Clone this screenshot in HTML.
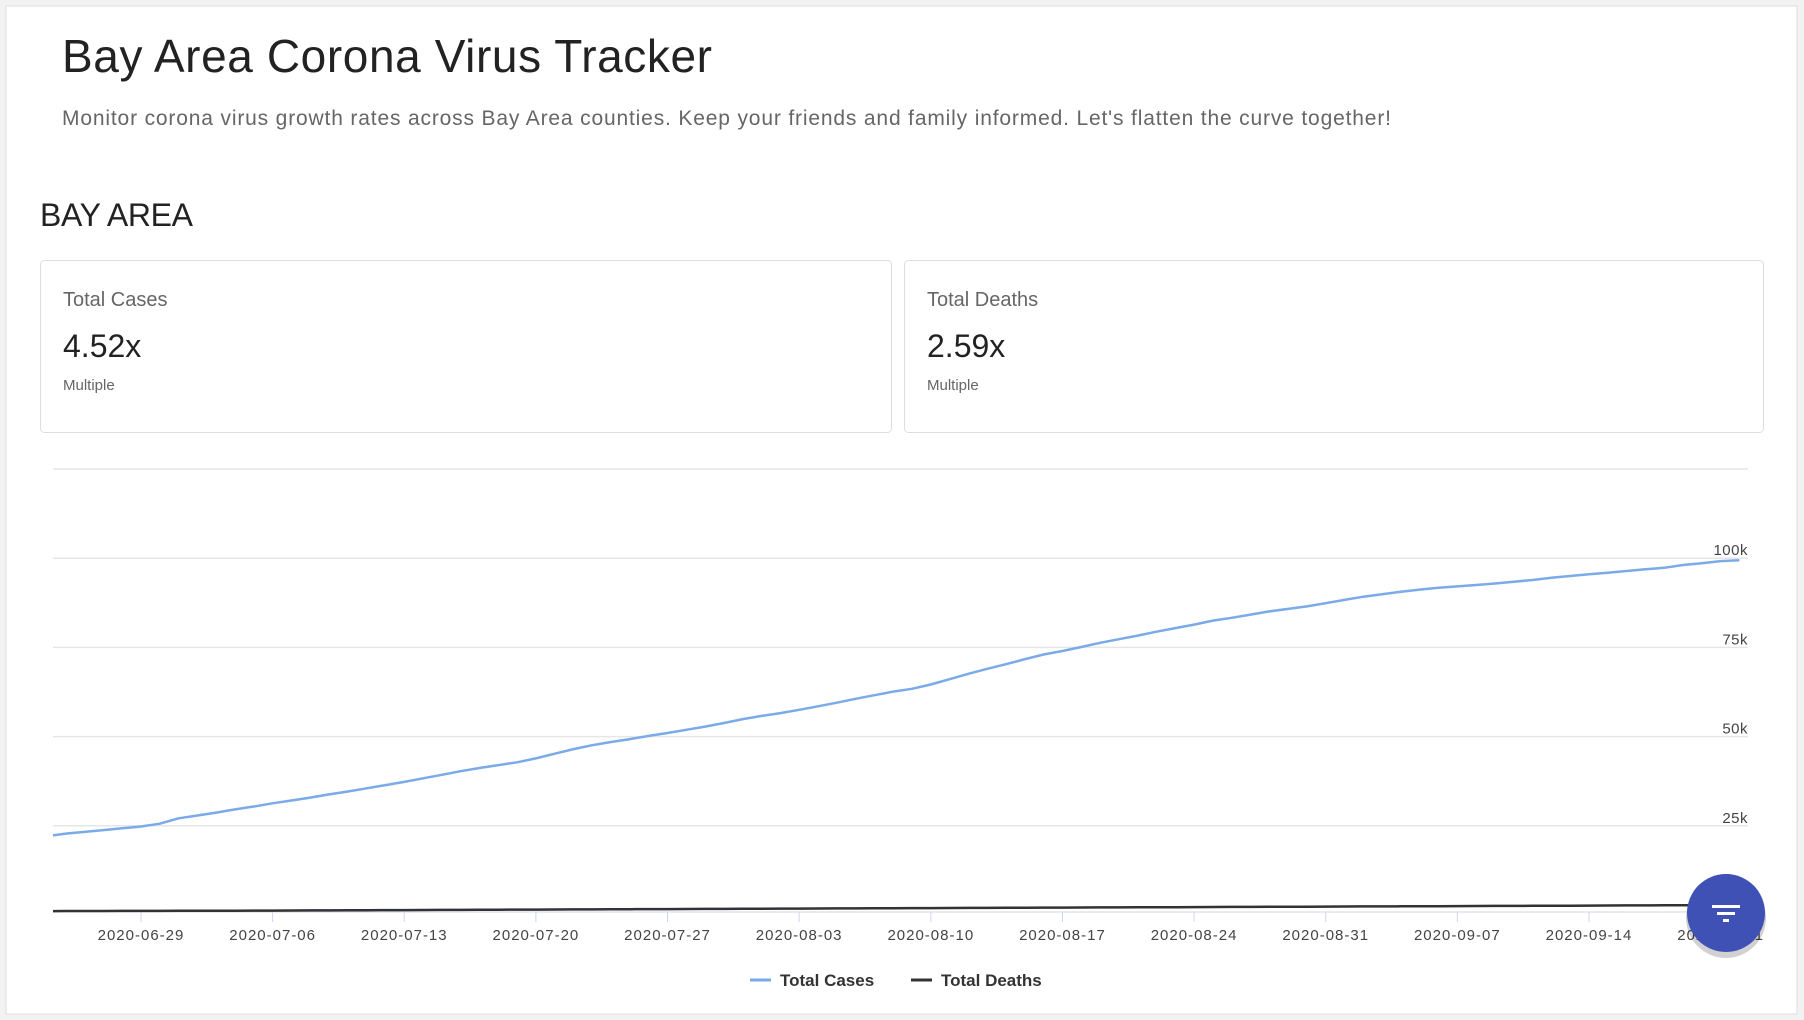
<!DOCTYPE html>
<html><head><meta charset="utf-8"><style>
html,body{margin:0;padding:0;background:#f2f2f2;}
svg{display:block;font-family:"Liberation Sans",sans-serif;}
.nar{font-family:"Liberation Sans Narrow","Liberation Sans",sans-serif;}
</style></head><body>
<svg width="1804" height="1020" viewBox="0 0 1804 1020">
<rect x="6" y="6" width="1791" height="1008" fill="#fff" stroke="#ddd"/>
<text x="62" y="72" font-size="46" fill="#222" textLength="650">Bay Area Corona Virus Tracker</text>
<text x="62" y="125" font-size="21" fill="#666" textLength="1329">Monitor corona virus growth rates across Bay Area counties. Keep your friends and family informed. Let's flatten the curve together!</text>
<text x="40" y="226" font-size="32" fill="#222" textLength="153">BAY AREA</text>
<g>
<rect x="40.5" y="260.5" width="851" height="172" rx="4" fill="#fff" stroke="#ddd"/>
<text x="63" y="306" font-size="20" fill="#666">Total Cases</text>
<text x="63" y="357" font-size="32" fill="#222">4.52x</text>
<text x="63" y="390" font-size="15" fill="#666">Multiple</text>
</g>
<g>
<rect x="904.5" y="260.5" width="859" height="172" rx="4" fill="#fff" stroke="#ddd"/>
<text x="927" y="306" font-size="20" fill="#666">Total Deaths</text>
<text x="927" y="357" font-size="32" fill="#222">2.59x</text>
<text x="927" y="390" font-size="15" fill="#666">Multiple</text>
</g>
<g id="chart"></g>
<g class="nar" font-size="17" font-weight="bold" fill="#333">
<line x1="750" y1="980" x2="771" y2="980" stroke="#7aaae8" stroke-width="3"/>
<text x="780" y="986">Total Cases</text>
<line x1="911" y1="980" x2="932" y2="980" stroke="#333" stroke-width="3"/>
<text x="941" y="986">Total Deaths</text>
</g>
<g>
<circle cx="1726" cy="915" r="40" fill="#000" opacity="0.18" transform="translate(0,3)"/>
<circle cx="1726" cy="913" r="39" fill="#3f51b5"/>
<rect x="1712" y="905" width="28" height="3" fill="#fff"/>
<rect x="1717" y="912" width="18" height="3" fill="#fff"/>
<rect x="1723" y="919" width="6" height="3" fill="#fff"/>
</g>
</svg>
<script>
const startDate = "2020-06-24";
const cases = [22.3,22.8,23.3,23.8,24.3,24.8,25.6,27.1,27.9,28.7,29.6,30.4,31.3,32.1,32.9,33.8,34.6,35.5,36.4,37.3,38.3,39.3,40.3,41.2,42.0,42.8,43.9,45.2,46.5,47.6,48.5,49.3,50.2,51.0,51.9,52.8,53.8,54.9,55.8,56.6,57.5,58.5,59.5,60.6,61.6,62.6,63.4,64.6,66.1,67.6,69.0,70.3,71.7,73.0,74.0,75.1,76.3,77.3,78.3,79.4,80.4,81.4,82.5,83.3,84.2,85.1,85.8,86.5,87.4,88.3,89.2,89.9,90.6,91.2,91.7,92.1,92.5,92.9,93.4,93.9,94.5,95.0,95.5,95.9,96.4,96.9,97.3,98.1,98.6,99.2,99.4];
const deaths = [1.10,1.11,1.12,1.13,1.14,1.15,1.16,1.17,1.18,1.19,1.20,1.22,1.24,1.26,1.28,1.30,1.32,1.34,1.36,1.38,1.40,1.42,1.44,1.46,1.48,1.50,1.52,1.54,1.56,1.58,1.60,1.62,1.64,1.66,1.68,1.70,1.72,1.74,1.76,1.78,1.80,1.82,1.84,1.86,1.88,1.90,1.92,1.94,1.96,1.98,2.00,2.02,2.04,2.06,2.08,2.10,2.12,2.14,2.16,2.18,2.20,2.22,2.24,2.26,2.28,2.30,2.32,2.34,2.36,2.38,2.40,2.42,2.44,2.46,2.48,2.50,2.52,2.54,2.56,2.58,2.60,2.62,2.64,2.66,2.68,2.70,2.72,2.74,2.76,2.78,2.80];
const yTicks = [25,50,75,100,125];
const yTickLabels = ["25k","50k","75k","100k",""];
const xTickLabels = ["2020-06-29","2020-07-06","2020-07-13","2020-07-20","2020-07-27","2020-08-03","2020-08-10","2020-08-17","2020-08-24","2020-08-31","2020-09-07","2020-09-14","2020-09-21"];
const xTickIndex = [5,12,19,26,33,40,47,54,61,68,75,82,89];

const NS="http://www.w3.org/2000/svg";
const g=document.getElementById('chart');
const L=53,R=1748;
function x(i){return 141+(i-5)*18.805;}
function y(v){return 915-v*(89.2/25);}
function mk(t,a){const e=document.createElementNS(NS,t);for(const k in a)e.setAttribute(k,a[k]);g.appendChild(e);return e;}
yTicks.forEach((v,k)=>{
  const l=mk('line',{x1:L,x2:R,y1:y(v),y2:y(v),stroke:'#e6e6e6','stroke-width':1.5});
  
  
  if(yTickLabels[k]){
    const t=mk('text',{x:R,y:y(v)-3,'text-anchor':'end','font-size':15,fill:'#444',class:'nar','letter-spacing':'0.5'});
    t.textContent=yTickLabels[k];
    
    
  }
});
const ax=mk('line',{x1:L,x2:R,y1:912,y2:912,stroke:'#ccd6eb','stroke-width':1});


xTickLabels.forEach((s,k)=>{
  const xi=x(xTickIndex[k]);
  const tk=mk('line',{x1:xi,x2:xi,y1:912,y2:922,stroke:'#ccd6eb'});
  
  
  const t=mk('text',{x:xi,y:940,'text-anchor':'middle','font-size':15,fill:'#444',class:'nar','letter-spacing':'1'});
  t.textContent=s;
  
  
});
function path(arr){return arr.map((v,i)=>(i?'L':'M')+Math.max(L,x(i)).toFixed(1)+','+y(v).toFixed(1)).join('');}
const pc=mk('path',{d:path(cases),fill:'none',stroke:'#7aaae8','stroke-width':2.5,'stroke-linejoin':'round'});


const pd=mk('path',{d:path(deaths),fill:'none',stroke:'#333','stroke-width':2.5,'stroke-linejoin':'round'});


</script>
</body></html>
